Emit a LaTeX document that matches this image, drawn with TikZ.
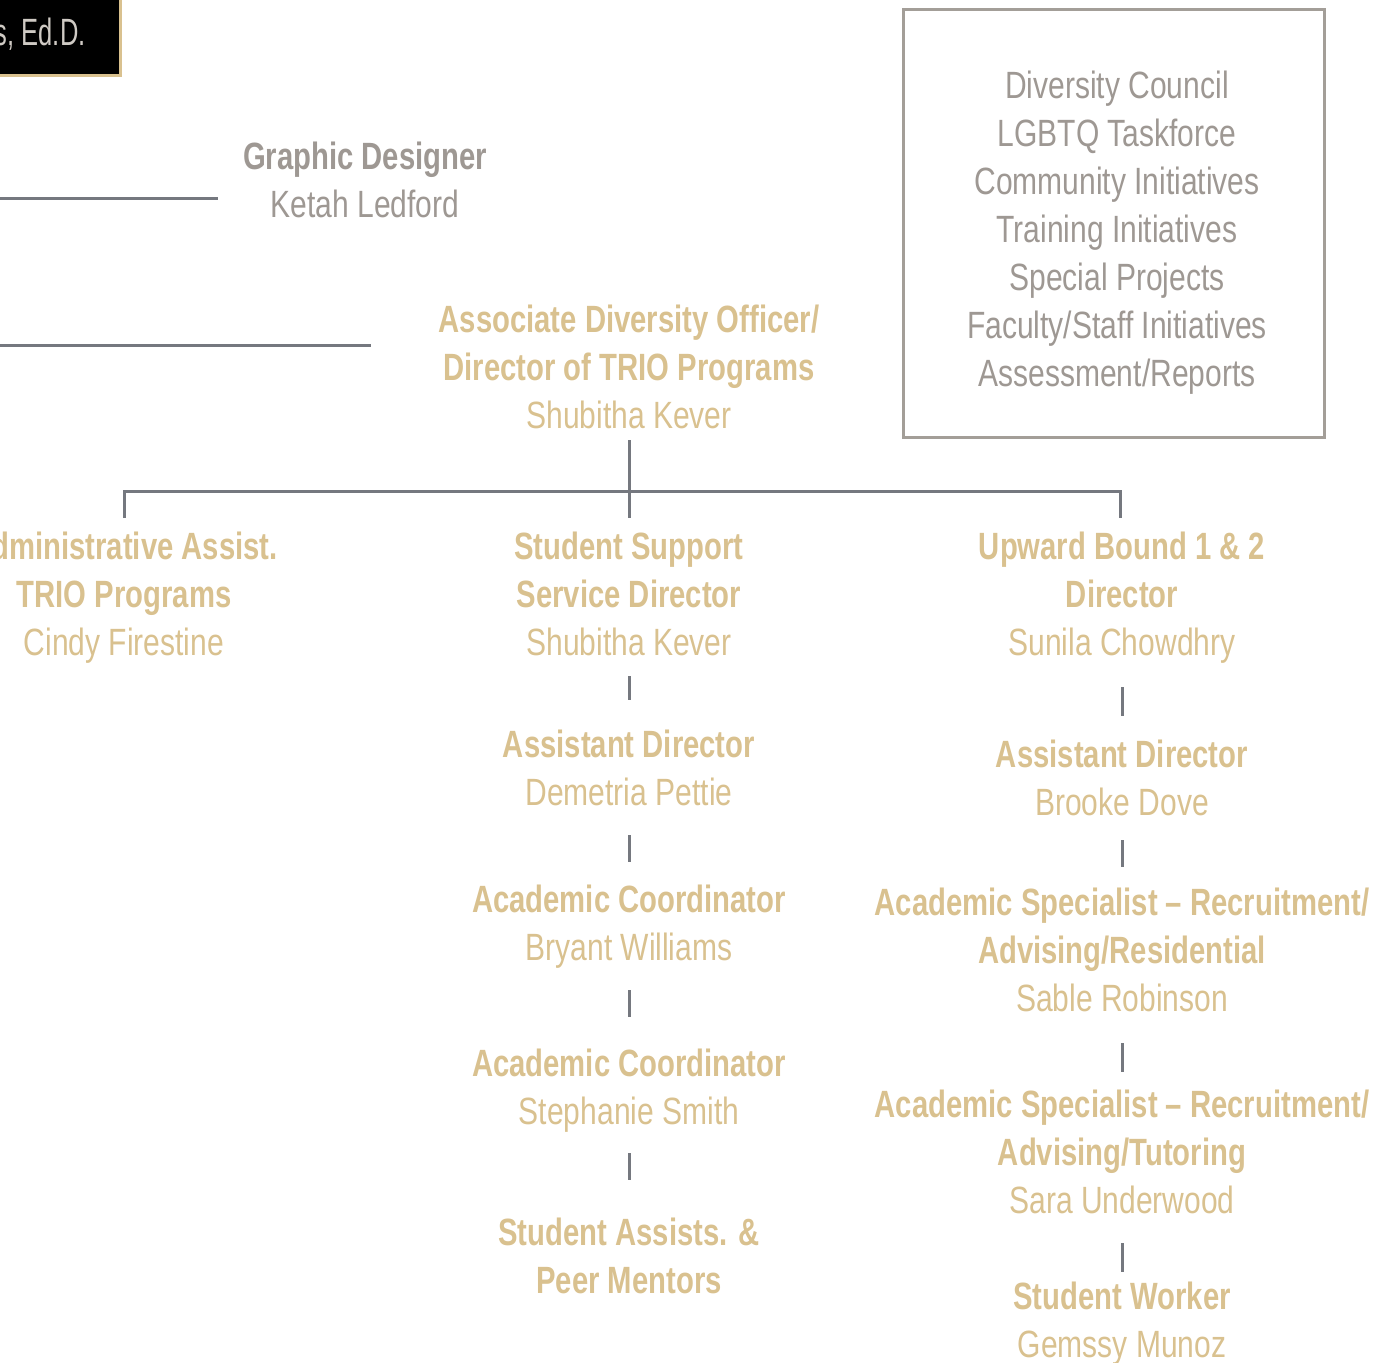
\documentclass[tikz,border=0pt]{standalone}
\usepackage{fontspec}
\setmainfont{Liberation Sans}[FakeStretch=0.79, BoldFeatures={FakeStretch=0.77}]
\definecolor{gold}{HTML}{D9C18F}
\definecolor{txtgray}{HTML}{9E9893}
\definecolor{linegray}{HTML}{75787F}
\definecolor{boxgray}{HTML}{A39E98}
\definecolor{lightgray}{HTML}{CFCAC4}
\tikzset{
  entry/.style={anchor=base, align=center, inner sep=0pt, font=\fontsize{19}{24}\selectfont},
  goldtxt/.style={entry, text=gold},
  graytxt/.style={entry, text=txtgray},
  conn/.style={draw=linegray, line width=1.5pt},
}
\begin{document}
\begin{tikzpicture}[x=0.5pt, y=-0.5pt]
\useasboundingbox (0,0) rectangle (1379,1362);
\clip (0,0) rectangle (1379,1362);
% top-left black box
\draw[fill=black, draw=gold, line width=1.5pt] (-200,-20) rectangle (120,75);
\node[anchor=base east, inner sep=0pt, text=lightgray, font=\fontsize{19}{24}\selectfont] (top) at (86,45) {\scalebox{0.85}[1]{s, Ed.D.}};
% right box
\draw[draw=boxgray, line width=1.5pt] (903,9) rectangle (1324,437);
\node[graytxt] (list) at (1117,386) {Diversity Council\\LGBTQ Taskforce\\Community Initiatives\\Training Initiatives\\Special Projects\\Faculty/Staff Initiatives\\Assessment/Reports};
% graphic designer
\node[graytxt] (gd) at (365,217) {\textbf{Graphic Designer}\\Ketah Ledford};
\coordinate (gdL) at (0,198);
\coordinate (gdR) at (218,198);
\draw[conn] (gdL) -- (gdR);
% associate diversity officer
\node[goldtxt] (ado) at (629,428) {\textbf{Associate Diversity Officer/}\\\textbf{Director of TRIO Programs}\\Shubitha Kever};
\coordinate (adoL) at (0,345);
\coordinate (adoR) at (371,345);
\draw[conn] (adoL) -- (adoR);
% second level
\node[goldtxt] (adm) at (124,655) {\textbf{Administrative Assist.}\\\textbf{TRIO Programs}\\Cindy Firestine};
\node[goldtxt] (ssd) at (629,655) {\textbf{Student Support}\\\textbf{Service Director}\\Shubitha Kever};
\node[goldtxt] (ub) at (1122,655) {\textbf{Upward Bound 1 \& 2}\\\textbf{Director}\\Sunila Chowdhry};
\coordinate (adoB) at (629,440);
\coordinate (admT) at (124,518);
\coordinate (ssdT) at (629,518);
\coordinate (ubT) at (1120,518);
\draw[conn] (adoB) -- (ssdT);
\draw[conn] (admT) -- (124,491) -- (1120,491) -- (ubT);
% middle column
\node[goldtxt] (ad1) at (629,805) {\textbf{Assistant Director}\\Demetria Pettie};
\node[goldtxt] (ac1) at (629,960) {\textbf{Academic Coordinator}\\Bryant Williams};
\node[goldtxt] (ac2) at (629,1124) {\textbf{Academic Coordinator}\\Stephanie Smith};
\node[goldtxt] (sa) at (629,1293) {\textbf{Student Assists. \&}\\\textbf{Peer Mentors}};
\draw[conn] (629,676) -- (629,700);
\draw[conn] (629,835) -- (629,862);
\draw[conn] (629,990) -- (629,1017);
\draw[conn] (629,1153) -- (629,1180);
% right column
\node[goldtxt] (ad2) at (1122,815) {\textbf{Assistant Director}\\Brooke Dove};
\node[goldtxt] (as1) at (1122,1011) {\textbf{Academic Specialist – Recruitment/}\\\textbf{Advising/Residential}\\Sable Robinson};
\node[goldtxt] (as2) at (1122,1213) {\textbf{Academic Specialist – Recruitment/}\\\textbf{Advising/Tutoring}\\Sara Underwood};
\node[goldtxt] (sw) at (1122,1357) {\textbf{Student Worker}\\Gemssy Munoz};
\draw[conn] (1122,687) -- (1122,716);
\draw[conn] (1122,840) -- (1122,867);
\draw[conn] (1122,1043) -- (1122,1072);
\draw[conn] (1122,1243) -- (1122,1272);
\end{tikzpicture}
\end{document}
